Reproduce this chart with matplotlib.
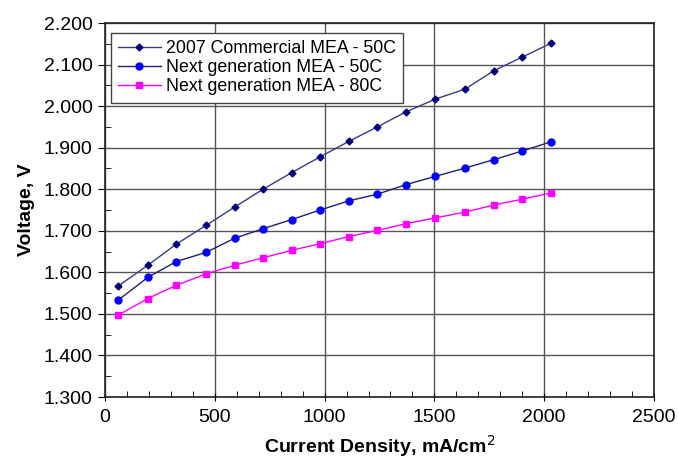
import matplotlib
matplotlib.use("Agg")
import matplotlib.pyplot as plt
from matplotlib.ticker import MultipleLocator, FormatStrFormatter

plt.rcParams['font.family'] = ['Liberation Sans', 'DejaVu Sans']

current = [60, 195, 325, 460, 590, 720, 850, 980, 1110, 1240, 1370, 1505, 1640, 1770, 1900, 2030]
commercial_50 = [1.567, 1.617, 1.668, 1.713, 1.757, 1.800, 1.840, 1.878, 1.915, 1.950,
                 1.986, 2.017, 2.041, 2.085, 2.118, 2.151]
nextgen_50 = [1.533, 1.588, 1.626, 1.648, 1.682, 1.705, 1.727, 1.750, 1.772, 1.788,
              1.811, 1.831, 1.851, 1.871, 1.892, 1.914]
nextgen_80 = [1.497, 1.537, 1.569, 1.596, 1.617, 1.635, 1.653, 1.669, 1.686, 1.701,
              1.717, 1.731, 1.745, 1.762, 1.776, 1.791]

fig = plt.figure(figsize=(6.78, 4.62), dpi=100)
ax = fig.add_axes([105 / 678, 1 - 397 / 462, 549 / 678, 374 / 462])

ax.plot(current, commercial_50, color='#3a3a80', lw=1, marker='D', ms=3.5,
        mfc='#000080', mec='#000080', label='2007 Commercial MEA - 50C')
ax.plot(current, nextgen_50, color='#202070', lw=1, marker='o', ms=5,
        mfc='#0000ff', mec='#0000ff', label='Next generation MEA - 50C')
ax.plot(current, nextgen_80, color='#ff00ff', lw=1, marker='s', ms=4.5,
        mfc='#ff00ff', mec='#ff00ff', label='Next generation MEA - 80C')

ax.set_xlim(0, 2500)
ax.set_ylim(1.3, 2.2)
ax.xaxis.set_major_locator(MultipleLocator(500))
ax.xaxis.set_minor_locator(MultipleLocator(100))
ax.yaxis.set_major_locator(MultipleLocator(0.1))
ax.yaxis.set_minor_locator(MultipleLocator(0.05))
ax.yaxis.set_major_formatter(FormatStrFormatter('%.3f'))

ax.grid(True, which='major', color='#555555', lw=1)
ax.set_axisbelow(True)
ax.tick_params(axis='x', which='major', direction='inout', length=6, labelsize=14, pad=6)
ax.tick_params(axis='x', which='minor', direction='in', length=4)
ax.tick_params(axis='y', which='major', direction='out', length=5, labelsize=14, pad=4)
ax.tick_params(axis='y', which='minor', direction='in', length=4)
for s in ax.spines.values():
    s.set_linewidth(1.2)
    s.set_color('#222222')

ax.set_xlabel('Current Density, mA/cm$^2$', fontsize=14, fontweight='bold', labelpad=5)
ax.set_ylabel('Voltage, V', fontsize=14, fontweight='bold', labelpad=6)

leg = ax.legend(loc='upper left', bbox_to_anchor=(0.011, 0.973), borderaxespad=0,
                fontsize=12.8, fancybox=False, framealpha=1, edgecolor='#444444',
                handlelength=2.4, handletextpad=0.3, labelspacing=0.12, borderpad=0.4)
leg.get_frame().set_linewidth(1)

fig.savefig('out.png', dpi=100)
